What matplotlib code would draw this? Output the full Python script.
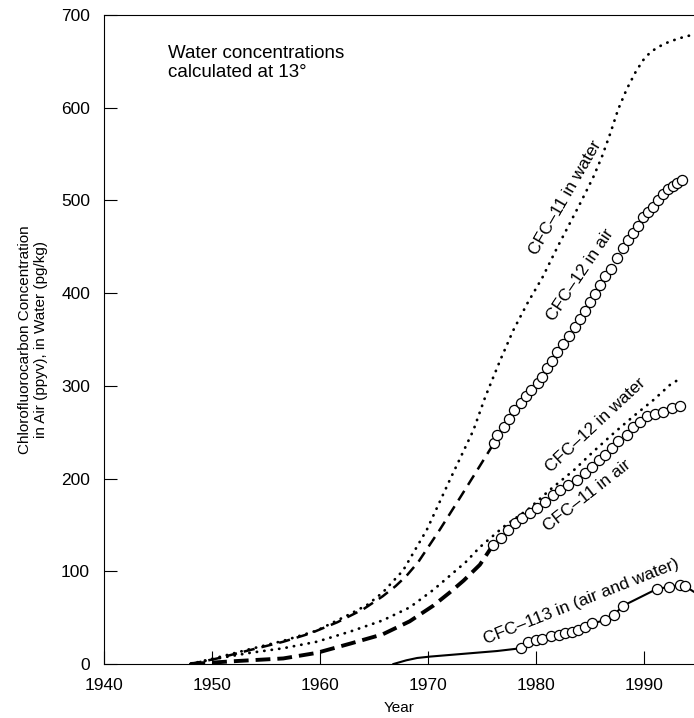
import matplotlib.pyplot as plt
import numpy as np

plt.rcParams["font.family"] = ["Liberation Sans", "DejaVu Sans"]

# CFC-11 dissolved in water (dotted)
cfc11_water_yr = [1948.0, 1950.5, 1953.5, 1956.6, 1959.7, 1962.8, 1964.4, 1965.8,
                  1967.7, 1969.9, 1972.0, 1974.2, 1975.3, 1976.7, 1977.9, 1979.2,
                  1980.6, 1982.0, 1984.1, 1985.3, 1986.1, 1986.9, 1987.6, 1988.4,
                  1989.2, 1989.9, 1990.6, 1991.4, 1992.3, 1993.3, 1994.6]
cfc11_water_val = [0, 7, 16, 25, 36, 54, 64, 77, 101, 145, 198, 252, 288, 328, 360,
                   389, 417, 450, 497, 525, 547, 573, 598, 620, 638, 651, 660, 666,
                   671, 675, 679]

# CFC-12 dissolved in water (dotted)
cfc12_water_yr = [1948.0, 1950.5, 1953.5, 1956.6, 1959.7, 1962.8, 1965.8, 1968.3,
                  1970.5, 1972.0, 1973.5, 1974.8, 1977.0, 1979.4, 1981.3, 1983.5,
                  1985.3, 1987.2, 1989.0, 1990.9, 1992.4, 1993.5]
cfc12_water_val = [0, 6, 12, 17, 24, 35, 47, 61, 80, 95, 110, 126, 148, 168, 188,
                   209, 229, 249, 267, 285, 301, 309]

# CFC-12 in air, reconstructed before 1976 (dashed)
cfc12_air_est_yr = [1948.0, 1950.5, 1953.5, 1956.6, 1959.1, 1961.6, 1964.0, 1965.8,
                    1967.0, 1968.0, 1969.1, 1971.1, 1973.0, 1974.5, 1976.1]
cfc12_air_est_val = [0, 6, 15, 24, 33, 45, 59, 73, 84, 95, 110, 145, 180, 208, 238]

# CFC-11 in air, reconstructed before 1976 (thick dashed)
cfc11_air_est_yr = [1948.0, 1952.0, 1956.6, 1959.7, 1962.8, 1965.8, 1968.3, 1970.5,
                    1972.0, 1973.3, 1974.8, 1976.0]
cfc11_air_est_val = [0, 3, 6, 12, 22, 32, 46, 63, 77, 90, 107, 128]

# measured CFC-12 in air (circles)
cfc12_air_yr = [1976.1, 1976.4, 1977.0, 1977.5, 1978.0, 1978.6, 1979.1, 1979.5,
                1980.2, 1980.6, 1981.0, 1981.5, 1981.9, 1982.5, 1983.1, 1983.6,
                1984.1, 1984.5, 1985.0, 1985.5, 1985.9, 1986.4, 1986.9, 1987.5,
                1988.1, 1988.5, 1989.0, 1989.4, 1989.9, 1990.4, 1990.8, 1991.3,
                1991.8, 1992.2, 1992.7, 1993.1, 1993.5]
cfc12_air_val = [238, 247, 256, 264, 274, 281, 289, 295, 303, 310, 319, 327, 336,
                 345, 354, 363, 372, 381, 390, 399, 409, 418, 426, 438, 449, 457,
                 465, 472, 482, 488, 493, 500, 507, 512, 516, 519, 522]

# measured CFC-11 in air (circles)
cfc11_air_yr = [1976.0, 1976.8, 1977.4, 1978.1, 1978.7, 1979.4, 1980.1, 1980.8,
                1981.6, 1982.2, 1983.0, 1983.8, 1984.5, 1985.2, 1985.8, 1986.4,
                1987.0, 1987.6, 1988.4, 1989.0, 1989.6, 1990.3, 1991.0, 1991.8,
                1992.6, 1993.3]
cfc11_air_val = [128, 136, 145, 152, 157, 163, 168, 175, 182, 188, 193, 198, 206,
                 213, 220, 225, 233, 240, 247, 256, 261, 267, 270, 272, 276, 278]

# CFC-113 (solid line, circles where measured)
cfc113_line_yr = [1966.8, 1968.0, 1969.0, 1970.2, 1973.3, 1976.4, 1978.6, 1980.0,
                  1982.1, 1983.9, 1985.2, 1986.4, 1987.2, 1988.1, 1991.2, 1992.3,
                  1993.3, 1993.8, 1994.6]
cfc113_line_val = [0, 4, 6.5, 8, 11, 14, 17, 26, 31, 37, 44, 47, 53, 63, 81, 83,
                   85, 84, 78]
cfc113_pts_yr = [1978.6, 1979.3, 1980.0, 1980.6, 1981.4, 1982.1, 1982.7, 1983.3,
                 1983.9, 1984.5, 1985.2, 1986.4, 1987.2, 1988.1, 1991.2, 1992.3,
                 1993.3, 1993.8]
cfc113_pts_val = [17, 24, 26, 27, 30, 31, 33, 35, 37, 40, 44, 47, 53, 63, 81, 83,
                  85, 84]

dotted = (0, (0.1, 2.6))
fig = plt.figure(figsize=(6.94, 7.18), dpi=100)
ax = fig.add_axes([104 / 694, 1 - 664 / 718, 590 / 694, 649 / 718])

ax.plot(cfc11_water_yr, cfc11_water_val, color="black", lw=2.0,
        linestyle=dotted, dash_capstyle="round")
ax.plot(cfc12_water_yr, cfc12_water_val, color="black", lw=2.0,
        linestyle=dotted, dash_capstyle="round")
ax.plot(cfc12_air_est_yr, cfc12_air_est_val, color="black", lw=1.8,
        linestyle=(0, (4.5, 2.8)))
ax.plot(cfc11_air_est_yr, cfc11_air_est_val, color="black", lw=2.8,
        linestyle=(0, (3.8, 1.8)))
ax.plot(cfc113_line_yr, cfc113_line_val, color="black", lw=1.5)

marker_style = dict(linestyle="none", marker="o", markersize=7.3,
                    markerfacecolor="white", markeredgecolor="black",
                    markeredgewidth=0.9, zorder=3)
ax.plot(cfc12_air_yr, cfc12_air_val, **marker_style)
ax.plot(cfc11_air_yr, cfc11_air_val, **marker_style)
ax.plot(cfc113_pts_yr, cfc113_pts_val, **marker_style)

label_kw = dict(fontsize=12.5, ha="center", va="center", rotation_mode="anchor")
ax.text(1982.7, 503, "CFC\u201311 in water", rotation=60, **label_kw)
ax.text(1984.1, 420, "CFC\u201312 in air", rotation=56, **label_kw)
ax.text(1985.5, 258, "CFC\u201312 in water", rotation=43, **label_kw)
ax.text(1984.7, 182, "CFC\u201311 in air", rotation=38, **label_kw)
ax.text(1984.2, 67, "CFC\u2013113 in (air and water)", rotation=21.6, **label_kw)
ax.text(1945.9, 668, "Water concentrations\ncalculated at 13\u00b0",
        fontsize=13.5, ha="left", va="top")

ax.set_xlim(1940, 1994.63)
ax.set_ylim(0, 700)
ax.set_xticks(np.arange(1940, 1991, 10))
ax.set_yticks(np.arange(0, 701, 100))
ax.tick_params(direction="in", length=9.5, width=0.8, labelsize=12.5, pad=10)
ax.spines["right"].set_visible(False)
for side in ["left", "top", "bottom"]:
    ax.spines[side].set_linewidth(0.8)

ax.set_xlabel("Year", fontsize=11, labelpad=6)
ax.set_ylabel("Chlorofluorocarbon Concentration\nin Air (ppyv), in Water (pg/kg)",
              fontsize=11)
ax.yaxis.set_label_coords(-0.095, 0.5)

plt.savefig("out.png", dpi=100)
